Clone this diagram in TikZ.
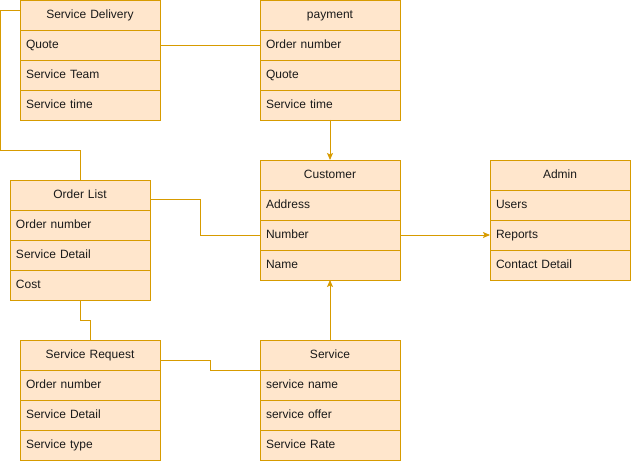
\documentclass[tikz,border=0pt]{standalone}
\usepackage{fontspec}
\setmainfont{Liberation Sans}
\usetikzlibrary{arrows.meta,calc}
\definecolor{boxfill}{HTML}{FFE6CC}
\definecolor{boxline}{HTML}{D79B00}
\definecolor{txt}{HTML}{1A1A1A}
\tikzset{
  cell/.style={draw=boxline, fill=boxfill, line width=0.9pt, minimum width=140pt, minimum height=30pt,
    text width=128pt, text height=9.5pt, text depth=2.5pt, inner xsep=6pt, inner ysep=0pt, outer sep=0pt,
    anchor=north west, text=txt, font=\fontsize{12}{14}\selectfont},
  headcell/.style={cell, align=center},
  rowcell/.style={cell, align=left},
  conn/.style={draw=boxline, line width=0.9pt},
  arr/.style={conn, -{Stealth[length=7pt,width=6pt,inset=1.5pt]}},
}
\newcommand{\umltable}[7]{%
  \node[headcell] (#1) at (#2,#3) {#4};
  \node[rowcell] (#1-1) at (#2,#3+30) {#5};
  \node[rowcell] (#1-2) at (#2,#3+60) {#6};
  \node[rowcell] (#1-3) at (#2,#3+90) {#7};
}
\begin{document}
\begin{tikzpicture}[x=1pt,y=-1pt]
\useasboundingbox (0,0) rectangle (631,462);
\umltable{sd}{20}{0}{Service Delivery}{Quote}{Service Team}{Service time}
\umltable{pay}{260}{0}{payment}{Order number}{Quote}{Service time}
\umltable{cust}{260}{160}{Customer}{Address}{Number}{Name}
\umltable{adm}{490}{160}{Admin}{Users}{Reports}{Contact Detail}
\umltable{ol}{10}{180}{Order List}{Order number}{Service Detail}{Cost}
\umltable{sr}{20}{340}{Service Request}{Order number}{Service Detail}{Service type}
\umltable{srv}{260}{340}{Service}{service name}{service offer}{Service Rate}
% connectors
\draw[conn] ($(sd.north west)+(0,10)$) -- (0.5,10) -- (0.5,150) -| (ol.north);
\draw[conn] (sd-1.east) -- (pay-1.west);
\draw[arr] (pay-3.south) -- (cust.north);
\draw[arr] (cust-2.east) -- (adm-2.west);
\draw[conn] ($(ol.north east)+(0,19)$) -- (200,199) |- (cust-2.west);
\draw[conn] (ol-3.south) -- (80,320) -| (sr.north);
\draw[conn] ($(sr.north east)+(0,20)$) -- (210,360) |- (srv.south west);
\draw[arr] (srv.north) -- (cust-3.south);
\end{tikzpicture}
\end{document}
